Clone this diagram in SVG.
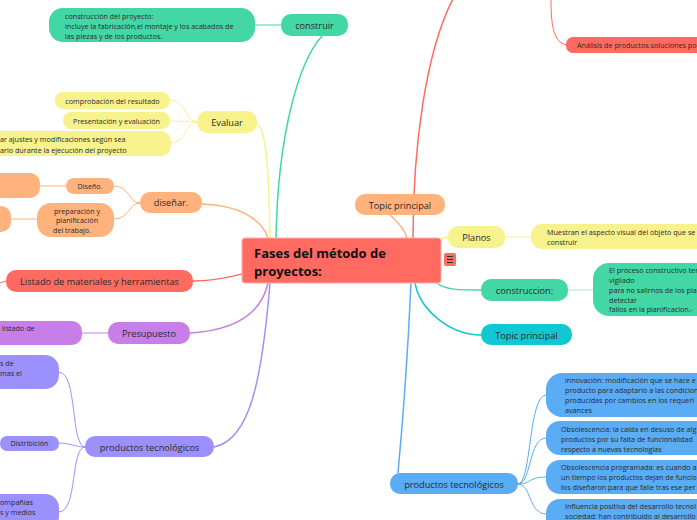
<svg xmlns="http://www.w3.org/2000/svg" width="697" height="520" viewBox="0 0 697 520">
<style>
text{font-family:"Open Sans","Noto Sans",sans-serif;fill:#2a2a2a}
.m{font-size:9.2px}
.s{font-size:7.2px}
.c{text-anchor:middle}
.t{font-size:13px;font-weight:bold;fill:#111}
path{fill:none}
.red{fill:#ff6b61}.grn{fill:#43d7a5}.yel{fill:#f8f28c}.org{fill:#ffb27c}.pur{fill:#c77ee8}.per{fill:#9c90fc}.blu{fill:#5aacf4}.tea{fill:#10c8d2}
</style>
<g id="connectors" stroke-linecap="round">
<g stroke-width="1.5">
<path d="M322 36 C300 60 278 130 276 238" stroke="#43d7a5"/>
<path d="M257 124 C265 128 269 160 270 238" stroke="#f8f28c"/>
<path d="M202 204 C240 205 262 220 268 238" stroke="#ffb27c"/>
<path d="M193 281 C215 281 230 277 242 274" stroke="#ff6b61"/>
<path d="M190 333 C240 330 262 310 268 283" stroke="#c77ee8"/>
<path d="M214 447 C250 440 262 380 270 283" stroke="#9c90fc"/>
<path d="M390 215 C398 222 405 230 407 238" stroke="#ffb27c"/>
<path d="M413 238 C413 150 425 50 455 -5" stroke="#ff6b61"/>
<path d="M441 239 C444 238 446 237 448 237" stroke="#f8f28c"/>
<path d="M437 283 C445 290 460 290 481 290" stroke="#43d7a5"/>
<path d="M415 283 C420 310 450 335 481 335" stroke="#10c8d2"/>
<path d="M411 283 C408 350 402 430 398 473" stroke="#5aacf4"/>
</g>
<g stroke-width="1">
<path d="M551 -2 C551 25 553 42 566 45" stroke="#ff6b61"/>
<path d="M0 283 L6 281" stroke="#ff6b61"/>
<path d="M255 25 L281 25" stroke="#43d7a5"/>
<path d="M197 122 C185 122 187 100 170 100 M197 122 L170 121 M197 122 C185 122 187 143 171 143" stroke="#f8f28c"/>
<path d="M140 203 C128 203 130 186 114 186 M140 203 C128 203 130 219 114 219 M40 186 L66 186 M11 219 L37 219" stroke="#ffb27c"/>
<path d="M82 333 L108 333" stroke="#c77ee8"/>
<path d="M85 447 C70 447 78 372 59 372 M85 447 C75 447 70 443 59 443 M85 447 C70 447 78 512 59 512" stroke="#9c90fc"/>
<path d="M505 237 L531 237" stroke="#f8f28c"/>
<path d="M568 290 L593 290" stroke="#9fe8cf"/>
<path d="M518 484 C532 484 528 395 546 395 M518 484 C532 484 528 438 546 438 M518 484 C532 484 528 477 546 477 M518 484 C532 484 528 514 546 514" stroke="#5aacf4"/>
</g>
</g>
<g id="center">
<rect x="242" y="238" width="199" height="45" rx="3" class="red" stroke="#ffb0aa" stroke-width="1"/>
<text class="t" x="254" y="258">Fases del método de</text>
<text class="t" x="254" y="276">proyectos:</text>
<rect x="444" y="253" width="12" height="13" rx="2" class="red"/>
<path d="M447 256.5h6M447 259.5h6M447 262.5h6" stroke="#333" stroke-width="1.2"/>
</g>
<g id="construir">
<rect x="281" y="14" width="67" height="22" rx="10" class="grn"/>
<text class="m c" x="314.5" y="28.5">construir</text>
</g>
<g id="construir-detalle">
<rect x="49" y="8" width="206" height="34" rx="14" class="grn"/>
<text class="s" x="65" y="18.5">construcción del proyecto:</text>
<text class="s" x="65" y="28.5">incluye la fabricación,el montaje y los acabados de</text>
<text class="s" x="65" y="38.5">las piezas y de los productos.</text>
</g>
<g id="evaluar">
<rect x="197" y="111" width="60" height="22" rx="10" class="yel"/>
<text class="m c" x="227" y="125.5">Evaluar</text>
</g>
<g id="comprobacion">
<rect x="55" y="92" width="115" height="17" rx="8" class="yel"/>
<text class="s c" x="112.5" y="103.5">comprobación del resultado</text>
</g>
<g id="presentacion">
<rect x="63" y="112" width="107" height="17" rx="8" class="yel"/>
<text class="s c" x="116.5" y="123.5">Presentación y evaluación</text>
</g>
<g id="ajustes">
<rect x="-12" y="131" width="183" height="25" rx="10" class="yel"/>
<text class="s" x="0" y="141.5">ar ajustes y modificaciones según sea</text>
<text class="s" x="0" y="152.5">ario durante la ejecución del proyecto</text>
</g>
<g id="disenar">
<rect x="140" y="192" width="62" height="21" rx="10" class="org"/>
<text class="m c" x="171" y="206">diseñar.</text>
</g>
<g id="diseno">
<rect x="66" y="178" width="48" height="16" rx="8" class="org"/>
<text class="s c" x="90" y="189">Diseño.</text>
</g>
<g id="preparacion">
<rect x="37" y="203" width="77" height="34" rx="14" class="org"/>
<text class="s c" x="77" y="213.5">preparación y</text>
<text class="s c" x="77" y="223">planificación</text>
<text class="s c" x="72" y="232.5">del trabajo.</text>
</g>
<g id="diseno-hijo">
<rect x="-12" y="173" width="52" height="25" rx="10" class="org"/>
</g>
<g id="preparacion-hijo">
<rect x="-12" y="206" width="23" height="26" rx="10" class="org"/>
</g>
<g id="listado">
<rect x="6" y="270" width="187" height="22" rx="10" class="red"/>
<text class="m c" x="99.5" y="285">Listado de materiales y herramientas</text>
</g>
<g id="presupuesto">
<rect x="108" y="322" width="82" height="22" rx="10" class="pur"/>
<text class="m c" x="149" y="336.5">Presupuesto</text>
</g>
<g id="presupuesto-hijo">
<rect x="-10" y="321" width="92" height="24" rx="10" class="pur"/>
<text class="s" x="2" y="331">listado de</text>
</g>
<g id="productos-izq">
<rect x="85" y="436" width="129" height="21" rx="10" class="per"/>
<text class="m c" x="149.5" y="450.5">productos tecnológicos</text>
</g>
<g id="prod-izq-1">
<rect x="-12" y="355" width="71" height="34" rx="14" class="per"/>
<text class="s" x="0" y="366">s de</text>
<text class="s" x="0" y="376">mas el</text>
</g>
<g id="distribucion">
<rect x="0" y="436" width="59" height="15" rx="7" class="per"/>
<text class="s c" x="29.5" y="446">Distribición</text>
</g>
<g id="prod-izq-3">
<rect x="-12" y="494" width="71" height="36" rx="14" class="per"/>
<text class="s" x="0" y="505">ompañías</text>
<text class="s" x="0" y="515">s y medios</text>
</g>
<g id="topic-naranja">
<rect x="355" y="194" width="90" height="21" rx="10" class="org"/>
<text class="m c" x="400" y="208.5">Topic principal</text>
</g>
<g id="analisis">
<rect x="566" y="37" width="140" height="16" rx="7" class="red"/>
<text class="s" x="577" y="48">Análisis de productos.soluciones po</text>
</g>
<g id="planos">
<rect x="448" y="226" width="57" height="22" rx="10" class="yel"/>
<text class="m c" x="476.5" y="240.5">Planos</text>
</g>
<g id="planos-hijo">
<rect x="531" y="224" width="180" height="25" rx="11" class="yel"/>
<text class="s" x="547" y="234.5">Muestran el aspecto visual del objeto que se</text>
<text class="s" x="547" y="244.5">construir</text>
</g>
<g id="construccion">
<rect x="481" y="279" width="87" height="22" rx="10" class="grn"/>
<text class="m c" x="524.5" y="293.5">construccion:</text>
</g>
<g id="construccion-hijo">
<rect x="593" y="263" width="120" height="53" rx="16" class="grn"/>
<text class="s" x="609" y="273">El proceso constructivo ter</text>
<text class="s" x="609" y="283">vigilado</text>
<text class="s" x="609" y="293">para no salirnos de los pla</text>
<text class="s" x="609" y="302.5">detectar</text>
<text class="s" x="609" y="312">fallos en la planificacion.-</text>
</g>
<g id="topic-turquesa">
<rect x="481" y="324" width="91" height="21" rx="10" class="tea"/>
<text class="m c" x="526.5" y="338.5">Topic principal</text>
</g>
<g id="productos-der">
<rect x="390" y="473" width="128" height="21" rx="10" class="blu"/>
<text class="m c" x="454" y="487.5">productos tecnológicos</text>
</g>
<g id="innovacion">
<rect x="546" y="373" width="165" height="44" rx="16" class="blu"/>
<text class="s" x="565" y="383">innovación:  modificación que se hace e</text>
<text class="s" x="565" y="393">producto para adaptarlo a las condicion</text>
<text class="s" x="565" y="403">producidas por cambios en los requeri</text>
<text class="s" x="565" y="412.5">avances</text>
</g>
<g id="obsolescencia">
<rect x="546" y="421" width="165" height="34" rx="14" class="blu"/>
<text class="s" x="561" y="432">Obsolescencia: la caída en desuso de alg</text>
<text class="s" x="561" y="442">productos por su falta de funcionalidad</text>
<text class="s" x="561" y="452">respecto  a nuevas tecnologias</text>
</g>
<g id="obsolescencia-programada">
<rect x="546" y="460" width="165" height="34" rx="14" class="blu"/>
<text class="s" x="561" y="470">Obsolescencia programada: es cuando a</text>
<text class="s" x="561" y="480">un tiempo los productos dejan de funcio</text>
<text class="s" x="561" y="490">los diseñaron para que falle tras ese per</text>
</g>
<g id="influencia">
<rect x="546" y="499" width="165" height="34" rx="14" class="blu"/>
<text class="s" x="565" y="509">Influencia positiva del desarrollo tecnol</text>
<text class="s" x="565" y="519">sociedad: han contribuido al desarrollo</text>
</g>
</svg>
